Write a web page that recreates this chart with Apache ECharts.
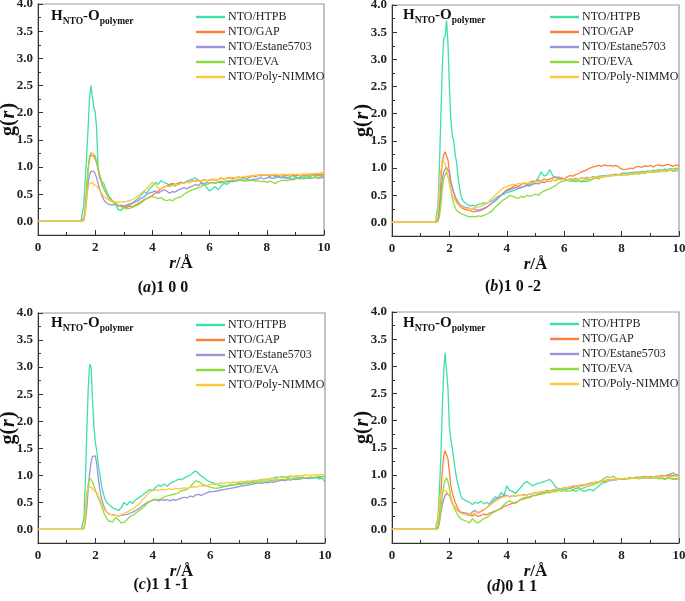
<!DOCTYPE html>
<html><head><meta charset="utf-8">
<script src="https://cdn.jsdelivr.net/npm/echarts@6/dist/echarts.min.js"></script>
<style>html,body{margin:0;padding:0;background:#fff}#c{width:685px;height:601px}</style>
</head><body><div id="c"></div>
<script>
// r grid (Å)
const r = [0,1.4,1.5,1.55,1.6,1.65,1.7,1.75,1.8,1.85,1.9,1.95,2.0,2.05,2.1,2.15,2.2,2.25,2.3,2.35,2.4,2.45,2.5,
2.6,2.7,2.8,2.9,3.0,
3.1,3.2,3.3,3.4,3.5,3.6,3.7,3.8,3.9,4.0,
4.1,4.2,4.3,4.4,4.5,4.6,4.7,4.8,4.9,5.0,
5.1,5.2,5.3,5.4,5.5,5.6,5.7,5.8,5.9,6.0,
6.1,6.2,6.3,6.4,6.5,6.6,6.7,6.8,6.9,7.0,
7.1,7.2,7.3,7.4,7.5,7.6,7.7,7.8,7.9,8.0,
8.1,8.2,8.3,8.4,8.5,8.6,8.7,8.8,8.9,9.0,
9.1,9.2,9.3,9.4,9.5,9.6,9.7,9.8,9.9,10.0];

const seriesNames = ['NTO/HTPB','NTO/GAP','NTO/Estane5703','NTO/EVA','NTO/Poly-NIMMO'];
const seriesColors = ['#3ee0aa','#ff7f3c','#9d92dc','#8edd3e','#ffc83a'];
const xTicks = [0,2,4,6,8,10];
const yTicks = [0,0.5,1.0,1.5,2.0,2.5,3.0,3.5,4.0];
const captions = [['a',')1 0 0'],['b',')1 0 -2'],['c',')1 1 -1'],['d',')0 1 1']];

// (a) 1 0 0
const a_HTPB = [0,0,0,0.02,0.3,0.75,1.2,1.7,2.25,2.5,2.3,2.1,2.02,1.7,1.0,0.8,0.75,0.72,0.7,0.62,0.55,0.5,0.45,
0.38,0.32,0.22,0.2,0.26,
0.28,0.3,0.33,0.38,0.42,0.48,0.55,0.52,0.6,0.65,
0.72,0.68,0.75,0.72,0.7,0.66,0.68,0.65,0.7,0.72,
0.7,0.74,0.76,0.78,0.8,0.76,0.72,0.7,0.62,0.56,
0.6,0.64,0.58,0.65,0.7,0.68,0.72,0.75,0.74,0.78,
0.76,0.8,0.78,0.82,0.84,0.82,0.85,0.84,0.86,0.85,
0.83,0.85,0.82,0.84,0.81,0.83,0.8,0.82,0.84,0.82,
0.8,0.83,0.81,0.84,0.82,0.85,0.83,0.86,0.84,0.87];
const a_GAP = [0,0,0,0,0.05,0.25,0.6,0.95,1.15,1.22,1.25,1.2,1.15,1.08,0.95,0.85,0.75,0.66,0.6,0.55,0.5,0.45,0.42,
0.38,0.34,0.3,0.28,0.27,
0.26,0.28,0.27,0.3,0.33,0.36,0.4,0.42,0.45,0.48,
0.52,0.55,0.6,0.63,0.65,0.68,0.7,0.68,0.7,0.72,
0.7,0.73,0.72,0.75,0.74,0.76,0.74,0.77,0.75,0.76,
0.78,0.76,0.77,0.8,0.78,0.79,0.81,0.78,0.8,0.82,
0.8,0.82,0.83,0.81,0.84,0.83,0.85,0.84,0.86,0.85,
0.84,0.86,0.85,0.84,0.86,0.85,0.84,0.86,0.85,0.84,
0.85,0.86,0.84,0.86,0.85,0.87,0.86,0.85,0.87,0.86];
const a_Est = [0,0,0,0,0.02,0.15,0.4,0.7,0.85,0.92,0.94,0.92,0.88,0.8,0.7,0.6,0.52,0.45,0.4,0.36,0.33,0.32,0.3,
0.3,0.32,0.28,0.3,0.28,
0.3,0.32,0.34,0.36,0.38,0.42,0.45,0.5,0.52,0.54,
0.56,0.52,0.55,0.58,0.56,0.52,0.55,0.54,0.58,0.6,
0.62,0.6,0.63,0.65,0.68,0.66,0.7,0.68,0.72,0.7,
0.72,0.7,0.73,0.71,0.74,0.72,0.75,0.73,0.74,0.75,
0.76,0.74,0.77,0.76,0.78,0.77,0.79,0.8,0.78,0.8,
0.81,0.79,0.8,0.82,0.8,0.81,0.79,0.8,0.78,0.8,
0.79,0.8,0.78,0.8,0.79,0.8,0.81,0.79,0.8,0.82];
const a_EVA = [0,0,0,0,0.02,0.15,0.5,0.95,1.2,1.26,1.27,1.24,1.2,1.1,0.98,0.88,0.78,0.68,0.6,0.55,0.5,0.45,0.42,
0.36,0.33,0.3,0.27,0.25,
0.23,0.24,0.26,0.28,0.3,0.34,0.38,0.42,0.44,0.46,
0.44,0.42,0.44,0.4,0.38,0.4,0.38,0.42,0.44,0.45,
0.5,0.53,0.56,0.58,0.6,0.62,0.64,0.67,0.68,0.7,
0.72,0.7,0.73,0.74,0.72,0.75,0.74,0.76,0.75,0.77,
0.75,0.76,0.74,0.75,0.76,0.74,0.75,0.73,0.74,0.72,
0.74,0.72,0.7,0.73,0.75,0.76,0.75,0.77,0.76,0.78,
0.79,0.78,0.8,0.79,0.81,0.8,0.82,0.81,0.83,0.83];
const a_NIMMO = [0,0,0,0,0.02,0.15,0.42,0.62,0.7,0.72,0.72,0.68,0.66,0.65,0.62,0.58,0.54,0.5,0.46,0.44,0.42,0.4,0.38,
0.37,0.36,0.35,0.36,0.36,
0.37,0.38,0.4,0.43,0.47,0.52,0.56,0.6,0.66,0.72,
0.68,0.62,0.6,0.63,0.65,0.64,0.66,0.68,0.67,0.7,
0.7,0.72,0.71,0.74,0.73,0.75,0.74,0.76,0.75,0.77,
0.76,0.78,0.77,0.79,0.78,0.8,0.79,0.81,0.8,0.82,
0.81,0.83,0.82,0.84,0.83,0.85,0.84,0.86,0.85,0.86,
0.85,0.86,0.87,0.85,0.86,0.87,0.86,0.85,0.87,0.86,
0.87,0.86,0.88,0.87,0.88,0.87,0.89,0.88,0.9,0.9];

// (b) 1 0 -2
const b_HTPB = [0,0,0,0.02,0.3,1.0,1.9,2.8,3.38,3.42,3.72,3.3,2.5,1.9,1.6,1.5,1.25,1.1,0.85,0.65,0.5,0.42,0.38,
0.34,0.3,0.32,0.3,0.33,
0.34,0.36,0.35,0.38,0.4,0.44,0.48,0.5,0.52,0.55,
0.56,0.58,0.6,0.62,0.64,0.66,0.68,0.7,0.72,0.75,
0.82,0.93,0.85,0.88,0.97,0.86,0.82,0.84,0.8,0.78,
0.78,0.76,0.77,0.75,0.77,0.74,0.76,0.75,0.78,0.8,
0.84,0.83,0.86,0.85,0.87,0.86,0.88,0.89,0.88,0.9,
0.91,0.9,0.92,0.91,0.93,0.92,0.94,0.93,0.95,0.94,
0.96,0.95,0.97,0.96,0.98,0.97,0.99,0.98,1.0,0.97];
const b_GAP = [0,0,0,0,0.05,0.3,0.75,1.1,1.25,1.3,1.28,1.15,0.95,0.75,0.65,0.55,0.47,0.4,0.35,0.3,0.28,0.26,0.25,
0.23,0.22,0.2,0.2,0.21,
0.22,0.25,0.28,0.32,0.36,0.4,0.45,0.5,0.55,0.6,
0.62,0.65,0.68,0.66,0.7,0.72,0.7,0.74,0.76,0.75,
0.78,0.76,0.8,0.78,0.8,0.82,0.84,0.8,0.82,0.8,
0.84,0.86,0.85,0.88,0.9,0.93,0.95,0.97,1.0,1.02,
1.03,1.05,1.03,1.06,1.04,1.05,1.03,1.05,1.02,0.98,
0.97,0.98,1.0,0.99,1.02,1.03,1.01,1.04,1.03,1.05,
1.02,1.05,1.06,1.04,1.05,1.07,1.05,1.03,1.06,1.04];
const b_Est = [0,0,0,0,0.03,0.2,0.5,0.8,0.92,0.98,1.02,1.0,0.9,0.75,0.65,0.55,0.48,0.42,0.38,0.34,0.32,0.3,0.28,
0.27,0.26,0.25,0.24,0.22,
0.24,0.26,0.28,0.32,0.36,0.4,0.45,0.5,0.55,0.58,
0.6,0.62,0.64,0.63,0.65,0.66,0.68,0.67,0.7,0.72,
0.71,0.74,0.73,0.76,0.75,0.78,0.77,0.8,0.79,0.8,
0.78,0.8,0.79,0.81,0.8,0.82,0.81,0.83,0.82,0.84,
0.83,0.85,0.84,0.86,0.85,0.87,0.86,0.88,0.87,0.89,
0.88,0.9,0.89,0.91,0.9,0.92,0.91,0.93,0.92,0.93,
0.94,0.93,0.95,0.94,0.96,0.95,0.96,0.95,0.97,0.96];
const b_EVA = [0,0,0,0,0.02,0.1,0.3,0.6,0.8,0.88,0.92,0.9,0.78,0.6,0.45,0.35,0.28,0.22,0.2,0.18,0.16,0.15,0.14,
0.12,0.1,0.11,0.1,0.12,
0.11,0.13,0.15,0.18,0.22,0.28,0.33,0.38,0.42,0.45,
0.5,0.48,0.46,0.44,0.48,0.46,0.5,0.48,0.5,0.52,
0.5,0.55,0.58,0.6,0.62,0.65,0.68,0.72,0.75,0.76,
0.78,0.77,0.76,0.78,0.77,0.76,0.78,0.79,0.77,0.8,
0.82,0.8,0.84,0.83,0.86,0.85,0.87,0.86,0.88,0.87,
0.88,0.87,0.89,0.88,0.9,0.89,0.91,0.9,0.92,0.93,
0.92,0.94,0.93,0.95,0.94,0.95,0.96,0.94,0.95,0.96];
const b_NIMMO = [0,0,0,0.01,0.2,0.6,0.95,1.08,1.12,1.1,1.0,0.85,0.7,0.6,0.5,0.45,0.4,0.36,0.33,0.31,0.3,0.28,0.27,
0.26,0.25,0.26,0.27,0.28,
0.3,0.32,0.35,0.4,0.45,0.5,0.55,0.6,0.64,0.66,
0.68,0.7,0.69,0.72,0.71,0.73,0.72,0.74,0.73,0.75,
0.74,0.76,0.75,0.77,0.76,0.78,0.77,0.79,0.78,0.8,
0.79,0.78,0.8,0.79,0.81,0.8,0.82,0.81,0.83,0.82,
0.84,0.83,0.85,0.84,0.86,0.85,0.87,0.86,0.88,0.87,
0.89,0.88,0.9,0.89,0.91,0.9,0.92,0.91,0.93,0.92,
0.94,0.93,0.95,0.94,0.96,0.95,0.97,0.96,0.98,0.97];

// (c) 1 1 -1
const c_HTPB = [0,0,0,-0.03,0.2,0.9,1.8,2.6,3.05,3.0,2.4,1.9,1.6,1.45,1.2,1.04,0.85,0.72,0.62,0.54,0.5,0.47,0.45,
0.4,0.38,0.35,0.4,0.5,
0.45,0.52,0.48,0.55,0.58,0.62,0.66,0.7,0.74,0.72,
0.78,0.82,0.8,0.84,0.8,0.85,0.88,0.9,0.93,0.92,
0.95,0.98,1.0,1.05,1.08,1.03,0.98,0.95,0.9,0.88,
0.86,0.84,0.82,0.8,0.8,0.81,0.83,0.82,0.84,0.86,
0.85,0.87,0.88,0.87,0.9,0.89,0.91,0.92,0.93,0.92,
0.94,0.95,0.97,0.96,0.98,0.97,0.96,0.98,0.97,0.98,
0.96,0.97,0.95,0.96,0.94,0.95,0.96,0.93,0.95,0.88];
const c_GAP = [];
const c_Est = [0,0,0,0,0.02,0.15,0.4,0.75,1.05,1.25,1.35,1.38,1.36,1.2,0.95,0.75,0.6,0.5,0.42,0.36,0.32,0.3,0.28,
0.27,0.26,0.25,0.26,0.27,
0.28,0.3,0.32,0.35,0.38,0.42,0.46,0.5,0.52,0.54,
0.55,0.53,0.55,0.54,0.55,0.53,0.55,0.54,0.56,0.58,
0.6,0.58,0.62,0.6,0.64,0.65,0.63,0.66,0.68,0.7,
0.7,0.71,0.72,0.73,0.74,0.75,0.76,0.77,0.78,0.79,
0.8,0.81,0.82,0.83,0.84,0.85,0.86,0.85,0.87,0.86,
0.88,0.87,0.89,0.9,0.91,0.9,0.92,0.91,0.93,0.92,
0.93,0.94,0.95,0.94,0.96,0.95,0.97,0.96,0.98,0.97];
const c_EVA = [0,0,0,0,0.02,0.2,0.55,0.85,0.95,0.97,0.88,0.8,0.72,0.65,0.58,0.52,0.45,0.38,0.3,0.25,0.2,0.16,0.14,
0.14,0.22,0.18,0.12,0.13,
0.18,0.24,0.26,0.3,0.34,0.38,0.42,0.48,0.52,0.55,
0.56,0.55,0.57,0.6,0.62,0.63,0.65,0.66,0.68,0.72,
0.72,0.75,0.78,0.85,0.9,0.88,0.85,0.82,0.8,0.78,
0.77,0.76,0.77,0.78,0.79,0.8,0.81,0.82,0.83,0.84,
0.83,0.85,0.84,0.86,0.87,0.88,0.87,0.89,0.9,0.89,
0.91,0.9,0.92,0.91,0.93,0.92,0.94,0.93,0.94,0.95,
0.94,0.96,0.95,0.96,0.97,0.96,0.97,0.98,0.97,0.98];
const c_NIMMO = [0,0,0,0,0.05,0.35,0.7,0.78,0.8,0.78,0.76,0.72,0.7,0.68,0.62,0.56,0.5,0.44,0.38,0.34,0.31,0.29,0.28,
0.27,0.26,0.25,0.27,0.3,
0.32,0.35,0.38,0.42,0.46,0.52,0.58,0.64,0.7,0.72,
0.73,0.72,0.74,0.73,0.74,0.75,0.74,0.76,0.75,0.76,
0.77,0.76,0.78,0.79,0.78,0.8,0.81,0.8,0.82,0.83,
0.84,0.83,0.85,0.86,0.85,0.87,0.86,0.88,0.87,0.88,
0.89,0.88,0.9,0.89,0.91,0.9,0.92,0.91,0.92,0.93,
0.94,0.93,0.95,0.96,0.97,0.96,0.98,0.99,0.98,0.99,
1.0,0.99,1.01,1.0,1.01,1.0,1.02,1.01,1.02,1.01];

// (d) 0 1 1
const d_HTPB = [0,0,0,0.02,0.2,0.7,1.3,2.2,2.9,3.25,3.28,2.6,1.9,1.65,1.5,1.3,1.1,0.95,0.82,0.72,0.62,0.57,0.55,
0.52,0.5,0.46,0.5,0.48,
0.52,0.47,0.5,0.46,0.55,0.6,0.58,0.68,0.62,0.8,
0.72,0.7,0.66,0.72,0.78,0.85,0.88,0.84,0.8,0.83,
0.85,0.86,0.88,0.9,0.92,0.86,0.78,0.75,0.74,0.72,
0.74,0.76,0.73,0.75,0.77,0.72,0.7,0.72,0.74,0.71,
0.75,0.8,0.84,0.86,0.88,0.9,0.91,0.92,0.93,0.92,
0.93,0.94,0.95,0.94,0.96,0.95,0.97,0.96,0.95,0.97,
0.96,0.98,0.97,0.99,0.98,1.0,1.02,1.04,1.0,0.97];
const d_GAP = [0,0,0,0,0.05,0.3,0.65,1.05,1.35,1.45,1.42,1.3,1.05,0.8,0.68,0.58,0.5,0.44,0.38,0.34,0.32,0.3,0.28,
0.27,0.26,0.25,0.27,0.24,
0.26,0.28,0.27,0.3,0.32,0.34,0.36,0.38,0.42,0.44,
0.46,0.48,0.5,0.52,0.55,0.56,0.58,0.6,0.62,0.63,
0.64,0.66,0.68,0.7,0.71,0.72,0.74,0.73,0.75,0.76,
0.77,0.78,0.77,0.79,0.8,0.81,0.82,0.83,0.84,0.85,
0.86,0.87,0.88,0.89,0.9,0.91,0.92,0.91,0.93,0.92,
0.94,0.93,0.95,0.94,0.95,0.96,0.95,0.97,0.96,0.97,
0.96,0.98,0.97,0.99,0.98,0.99,1.0,0.99,1.01,1.0];
const d_Est = [0,0,0,0,0.02,0.12,0.3,0.45,0.55,0.62,0.66,0.68,0.62,0.55,0.48,0.44,0.4,0.37,0.34,0.32,0.3,0.3,0.31,
0.3,0.28,0.32,0.35,0.3,
0.33,0.36,0.4,0.45,0.5,0.55,0.58,0.6,0.62,0.63,
0.6,0.62,0.61,0.63,0.62,0.64,0.63,0.65,0.66,0.68,
0.67,0.7,0.69,0.72,0.71,0.73,0.72,0.74,0.75,0.76,
0.77,0.78,0.8,0.79,0.81,0.8,0.82,0.83,0.85,0.86,
0.87,0.88,0.9,0.89,0.91,0.9,0.92,0.91,0.93,0.92,
0.94,0.93,0.95,0.94,0.96,0.95,0.94,0.96,0.95,0.94,
0.95,0.96,0.94,0.95,0.93,0.95,0.94,0.92,0.94,0.93];
const d_EVA = [0,0,0,0,0.02,0.12,0.35,0.6,0.8,0.9,0.95,0.88,0.75,0.6,0.5,0.42,0.36,0.3,0.26,0.22,0.2,0.18,0.16,
0.15,0.12,0.2,0.14,0.12,
0.16,0.2,0.22,0.26,0.3,0.33,0.36,0.4,0.45,0.5,
0.52,0.5,0.48,0.52,0.56,0.58,0.6,0.58,0.62,0.62,
0.64,0.65,0.66,0.68,0.67,0.7,0.69,0.72,0.7,0.72,
0.7,0.71,0.72,0.7,0.73,0.75,0.77,0.79,0.8,0.82,
0.84,0.86,0.9,0.94,0.97,0.95,0.98,0.95,0.93,0.94,
0.92,0.94,0.93,0.95,0.94,0.93,0.95,0.94,0.96,0.95,
0.94,0.95,0.93,0.94,0.92,0.94,0.95,0.93,0.92,0.95];
const d_NIMMO = [0,0,0,0.01,0.15,0.45,0.65,0.7,0.72,0.72,0.7,0.66,0.62,0.56,0.5,0.45,0.4,0.37,0.34,0.32,0.3,0.29,0.28,
0.28,0.27,0.28,0.3,0.32,
0.34,0.37,0.4,0.44,0.48,0.52,0.55,0.58,0.6,0.62,
0.6,0.62,0.61,0.62,0.63,0.62,0.64,0.65,0.66,0.67,
0.68,0.69,0.7,0.7,0.71,0.72,0.73,0.74,0.75,0.76,
0.77,0.78,0.79,0.8,0.81,0.82,0.83,0.84,0.85,0.86,
0.87,0.88,0.89,0.9,0.9,0.91,0.92,0.93,0.92,0.93,
0.94,0.93,0.94,0.95,0.94,0.95,0.96,0.95,0.96,0.95,
0.96,0.97,0.96,0.97,0.98,0.97,0.98,0.97,0.98,0.98];

const panelData = [
  [a_HTPB,a_GAP,a_Est,a_EVA,a_NIMMO],
  [b_HTPB,b_GAP,b_Est,b_EVA,b_NIMMO],
  [c_HTPB,c_GAP,c_Est,c_EVA,c_NIMMO],
  [d_HTPB,d_GAP,d_Est,d_EVA,d_NIMMO]
];

// layout (pixels)
const F = 'Liberation Serif';
const layout = [
  {grid:{left:38, top:4, width:286, height:231}, legend:{left:196, top:11}, title:{x:51, y:9}, cap:{x:163, y:288}, xGap:20, yGap:19},
  {grid:{left:392, top:5, width:287, height:231}, legend:{left:550, top:11}, title:{x:403, y:8}, cap:{x:513, y:287}, xGap:19, yGap:19},
  {grid:{left:38, top:313, width:287, height:230}, legend:{left:196, top:319}, title:{x:51, y:316}, cap:{x:161, y:585}, xGap:20, yGap:19},
  {grid:{left:392, top:312, width:287, height:231}, legend:{left:550, top:318}, title:{x:403, y:316}, cap:{x:512, y:587}, xGap:20, yGap:19}
];

const grids=[], xAxes=[], yAxes=[], legends=[], series=[], graphics=[];
layout.forEach((L, i) => {
  grids.push(Object.assign({show:true, borderColor:'#999', borderWidth:1.2, backgroundColor:'#fff',
    containLabel:false, outerBoundsMode:'none'}, L.grid));
  xAxes.push({
    gridIndex:i, type:'value', min:0, max:10, interval:2,
    name:'{r|r}{n|/Å}', nameLocation:'middle', nameGap:L.xGap,
    nameTextStyle:{rich:{
      r:{fontFamily:F, fontWeight:'bold', fontStyle:'italic', fontSize:17, color:'#111'},
      n:{fontFamily:F, fontWeight:'bold', fontSize:17, color:'#111'}}},
    axisLine:{show:true, onZero:false, lineStyle:{color:'#333', width:1}},
    axisTick:{show:true, inside:true, length:5, customValues:xTicks, lineStyle:{color:'#333'}},
    minorTick:{show:true, splitNumber:2, length:3, lineStyle:{color:'#333'}},
    splitLine:{show:false}, minorSplitLine:{show:false},
    axisLabel:{fontFamily:F, fontWeight:'bold', fontSize:13, color:'#222', margin:6, customValues:xTicks}
  });
  yAxes[i] = {
    gridIndex:i, type:'value', min:-0.25, max:4, interval:0.25, position:'left',
    name:'{g|g(}{r|r}{g|)}', nameLocation:'middle', nameGap:L.yGap, nameRotate:90, nameMoveOverlap:false,
    nameTextStyle:{rich:{
      g:{fontFamily:F, fontWeight:'bold', fontSize:20, color:'#111'},
      r:{fontFamily:F, fontWeight:'bold', fontStyle:'italic', fontSize:20, color:'#111', padding:[0,1,0,1]}}},
    axisLine:{show:true, onZero:false, lineStyle:{color:'#333', width:1}},
    axisTick:{show:true, inside:true, length:3, lineStyle:{color:'#333'}},
    splitLine:{show:false},
    axisLabel:{fontFamily:F, fontWeight:'bold', fontSize:13, color:'#222', margin:5, customValues:yTicks,
      formatter:v => v.toFixed(1)}
  };
  yAxes[4+i] = {
    gridIndex:i, type:'value', min:-0.25, max:4, position:'left', offset:0,
    axisLine:{show:false}, axisLabel:{show:false}, splitLine:{show:false},
    axisTick:{show:true, inside:true, length:5, customValues:yTicks, lineStyle:{color:'#333'}}
  };
  legends.push({
    data:seriesNames, orient:'vertical', left:L.legend.left, top:L.legend.top, padding:0,
    itemWidth:29, itemHeight:12, itemGap:3, selectedMode:false,
    icon:'path://M0,0L30,0L30,2.5L0,2.5Z',
    textStyle:{fontFamily:F, fontSize:12, color:'#222', padding:[0,0,0,-2]}
  });
  panelData[i].forEach((arr, k) => {
    series.push({
      type:'line', name:seriesNames[k], xAxisIndex:i, yAxisIndex:i,
      data: arr.map((v, j) => [r[j], v]),
      showSymbol:false, symbol:'none', color:seriesColors[k],
      lineStyle:{width:1.3, color:seriesColors[k]}, animation:false
    });
  });
  graphics.push({
    type:'text', x:L.title.x, y:L.title.y, z:100,
    style:{text:'{h|H}{s|NTO}{h|-O}{s|polymer}', align:'left', verticalAlign:'top',
      rich:{
        h:{fontFamily:F, fontWeight:'bold', fontSize:15, lineHeight:16, verticalAlign:'top', fill:'#111'},
        s:{fontFamily:F, fontWeight:'bold', fontSize:9.5, lineHeight:10, padding:[8,0,0,0], verticalAlign:'top', fill:'#111'}
      }}
  });
  graphics.push({
    type:'text', x:L.cap.x, y:L.cap.y, z:100,
    style:{text:'{n|(}{i|'+captions[i][0]+'}{n|'+captions[i][1]+'}', align:'center', verticalAlign:'middle',
      rich:{
        n:{fontFamily:F, fontWeight:'bold', fontSize:16, fill:'#111'},
        i:{fontFamily:F, fontWeight:'bold', fontStyle:'italic', fontSize:16, fill:'#111'}
      }}
  });
});

const chart = echarts.init(document.getElementById('c'), null, {renderer:'canvas'});
chart.setOption({
  backgroundColor:'#fff', animation:false,
  grid:grids, xAxis:xAxes, yAxis:yAxes, legend:legends, series:series, graphic:graphics
});
</script></body></html>
